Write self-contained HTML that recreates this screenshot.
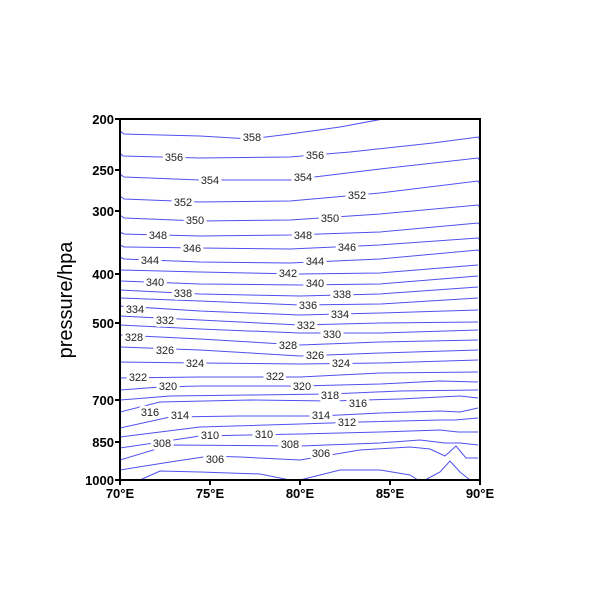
<!DOCTYPE html>
<html><head><meta charset="utf-8"><style>
html,body{margin:0;padding:0;background:#fff;width:600px;height:600px;overflow:hidden}
svg text{font-family:"Liberation Sans",Arial,sans-serif}
.c{fill:none;stroke:#5050f0;stroke-width:1}
.l{font-size:11px;fill:#222;text-anchor:middle;stroke:#fff;stroke-width:6px;paint-order:stroke;stroke-linejoin:round}
.t{font-size:13px;font-weight:bold;fill:#000}
</style></head><body>
<svg width="600" height="600" viewBox="0 0 600 600" xmlns="http://www.w3.org/2000/svg">
<g class="c">
<polyline points="120,131 124,134 200,136 250,139 290,134 340,127 383,119"/>
<polyline points="120,153 123,156 200,158 290,157 350,152 433,143 478,137 480,140"/>
<polyline points="120,174 124,177 200,180 290,180 380,169 478,158 480,161"/>
<polyline points="120,196 124,199 200,202 290,201 380,193 478,181 480,184"/>
<polyline points="120,215 124,218 200,221 290,220 380,214 478,205 480,208"/>
<polyline points="120,232 124,234 200,236 290,235 380,232 478,223 480,225"/>
<polyline points="120,245 124,247 200,248 290,249 380,245 478,238 480,240"/>
<polyline points="120,257 124,259 200,262 290,263 380,259 478,250 480,252"/>
<polyline points="120,270 200,272 300,274 380,273 478,265"/>
<polyline points="120,281 200,284 300,285 380,284 478,276"/>
<polyline points="120,290 200,294 300,296 380,294 478,287"/>
<polyline points="120,298 200,301 300,305 380,304 478,298"/>
<polyline points="120,306 200,311 300,315 380,313 478,310"/>
<polyline points="120,316 200,320 300,325 380,323 478,322"/>
<polyline points="120,325 200,329 300,333 380,333 478,330"/>
<polyline points="120,335 200,339 300,345 380,342 478,340"/>
<polyline points="120,347 200,350 300,356 380,353 478,350"/>
<polyline points="120,362 200,363 300,364 380,363 478,360"/>
<polyline points="120,378 200,377 300,377 380,373 478,372"/>
<polyline points="120,390 160,387 200,386 300,386 380,384 440,381 478,382"/>
<polyline points="120,400 170,396 250,395 330,394 400,391 478,390"/>
<polyline points="120,412 160,402 250,400 330,401 400,399 460,396 478,398"/>
<polyline points="120,428 170,417 240,416 320,416 380,413 440,411 460,412 478,408"/>
<polyline points="120,437 200,427 300,424 360,422 440,420 455,420 478,418"/>
<polyline points="120,448 200,436 300,434 380,432 440,430 458,432 478,432"/>
<polyline points="120,460 170,445 300,446 380,443 420,440 445,443 460,443 478,445"/>
<polyline points="120,470 170,462 210,456 240,457 300,460 360,450 410,447 430,449 445,456 456,446 466,458 478,458"/>
<polyline points="140,480 160,471 200,472 260,474 290,480"/>
<polyline points="300,480 340,470 380,470 410,475 418,480"/>
<polyline points="425,480 440,472 450,461 460,472 470,480"/>
</g>
<g class="l">
<text x="252" y="141">358</text>
<text x="174" y="161">356</text><text x="315" y="159">356</text>
<text x="210" y="184">354</text><text x="303" y="181">354</text>
<text x="183" y="206">352</text><text x="357" y="199">352</text>
<text x="195" y="224">350</text><text x="330" y="222">350</text>
<text x="158" y="239">348</text><text x="303" y="239">348</text>
<text x="192" y="252">346</text><text x="347" y="251">346</text>
<text x="150" y="264">344</text><text x="315" y="265">344</text>
<text x="288" y="277">342</text>
<text x="155" y="286">340</text><text x="315" y="287">340</text>
<text x="183" y="297">338</text><text x="342" y="298">338</text>
<text x="308" y="309">336</text>
<text x="135" y="313">334</text><text x="340" y="318">334</text>
<text x="165" y="324">332</text><text x="306" y="329">332</text>
<text x="332" y="338">330</text>
<text x="134" y="341">328</text><text x="288" y="349">328</text>
<text x="165" y="354">326</text><text x="315" y="359">326</text>
<text x="195" y="367">324</text><text x="341" y="367">324</text>
<text x="138" y="381">322</text><text x="275" y="380">322</text>
<text x="168" y="390">320</text><text x="302" y="390">320</text>
<text x="330" y="399">318</text><text x="358" y="407">316</text>
<text x="150" y="416">316</text><text x="180" y="419">314</text><text x="321" y="419">314</text>
<text x="347" y="426">312</text>
<text x="210" y="439">310</text><text x="264" y="438">310</text>
<text x="162" y="447">308</text><text x="290" y="448">308</text>
<text x="215" y="463">306</text><text x="321" y="457">306</text>
</g>
<g stroke="#000" stroke-width="2" fill="none">
<rect x="120" y="119" width="360" height="361"/>
<path d="M115,119H120M115,170H120M115,211H120M115,274H120M115,323H120M115,400H120M115,442H120M115,480H120M120,480V485M210,480V485M300,480V485M390,480V485M480,480V485"/>
</g>
<g class="t" text-anchor="end">
<text x="114" y="124">200</text><text x="114" y="175">250</text><text x="114" y="216">300</text>
<text x="114" y="279">400</text><text x="114" y="328">500</text><text x="114" y="405">700</text>
<text x="114" y="447">850</text><text x="114" y="485">1000</text>
</g>
<g class="t" text-anchor="middle">
<text x="120" y="498">70°E</text><text x="210" y="498">75°E</text><text x="300" y="498">80°E</text>
<text x="390" y="498">85°E</text><text x="480" y="498">90°E</text>
</g>
<text x="72" y="300" transform="rotate(-90 72 300)" text-anchor="middle" style="font-size:20px;fill:#000">pressure/hpa</text>
</svg>
</body></html>
